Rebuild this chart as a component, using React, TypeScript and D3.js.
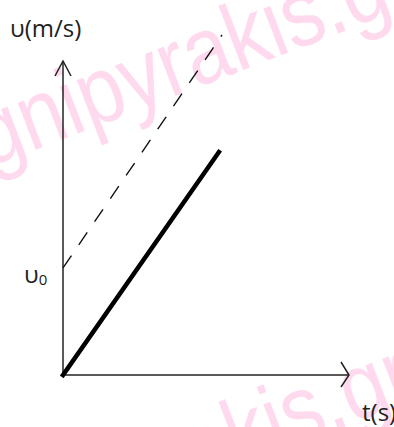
import React from "react";
import * as d3 from "d3";

// Axis domains (arbitrary units)
const tDomain = [0, 10];
const vDomain = [0, 10];

// Thick line: υ = a·t (starts at origin)
const thickT = [0, 5.45];
const thickV = [0, 7.1];

// Dashed line: υ = υ0 + a·t
const dashedT = [0, 5.56];
const dashedV = [3.41, 10.83];

const u0Value = 3.41;

const yLabel = "υ(m/s)";
const xLabel = "t(s)";
const watermark = "gnipyrakis.gr";

const W = 394;
const H = 427;

export default function App() {
  const x = d3.scaleLinear().domain(tDomain).range([63, 349]);
  const y = d3.scaleLinear().domain(vDomain).range([375, 61]);

  const line = d3
    .line<[number, number]>()
    .x((d) => x(d[0]))
    .y((d) => y(d[1]));

  const thick = thickT.map((t, i) => [t, thickV[i]] as [number, number]);
  const dashed = dashedT.map((t, i) => [t, dashedV[i]] as [number, number]);

  const x0 = x(0);
  const y0 = y(0);
  const xEnd = x(tDomain[1]);
  const yEnd = y(vDomain[1]);

  const wmStyle: React.CSSProperties = {
    fontFamily: "'Liberation Sans', Arial, sans-serif",
    fontSize: 95,
    fill: "#ffdaef",
  };

  return (
    <svg
      width={W}
      height={H}
      style={{ position: "absolute", left: 0, top: 0, background: "#fff" }}
    >
      <rect width={W} height={H} fill="#fff" />
      {/* watermark */}
      <text transform="translate(-12,168) rotate(-21) scale(0.86,1)" style={wmStyle}>
        {watermark}
      </text>
      <text transform="translate(-12,564) rotate(-21) scale(0.86,1)" style={wmStyle}>
        {watermark}
      </text>

      {/* axes */}
      <g stroke="#222" strokeWidth={1.5} fill="none">
        <line x1={x0} y1={y0} x2={x0} y2={yEnd} />
        <line x1={x0} y1={y0} x2={xEnd} y2={y0} />
        <polyline points={`${x0 - 8},${yEnd + 15} ${x0},${yEnd} ${x0 + 8},${yEnd + 15}`} />
        <polyline points={`${xEnd - 8},${y0 - 13} ${xEnd},${y0} ${xEnd - 8},${y0 + 12}`} />
      </g>

      {/* dashed line */}
      <path
        d={line(dashed) || ""}
        stroke="#111"
        strokeWidth={1.4}
        strokeDasharray="15,13"
        fill="none"
      />
      {/* thick line */}
      <path d={line(thick) || ""} stroke="#000" strokeWidth={4.5} fill="none" strokeLinecap="square" />

      {/* labels */}
      <g style={{ fontFamily: "'Open Sans', sans-serif", fill: "#222" }}>
        <text x={10} y={37} fontSize={24}>
          {yLabel}
        </text>
        <text x={x0 - 39} y={y(u0Value) + 15} fontSize={24}>
          υ
          <tspan fontSize={15} dy={2}>
            0
          </tspan>
        </text>
        <text x={362} y={421} fontSize={24}>
          {xLabel}
        </text>
      </g>
    </svg>
  );
}
